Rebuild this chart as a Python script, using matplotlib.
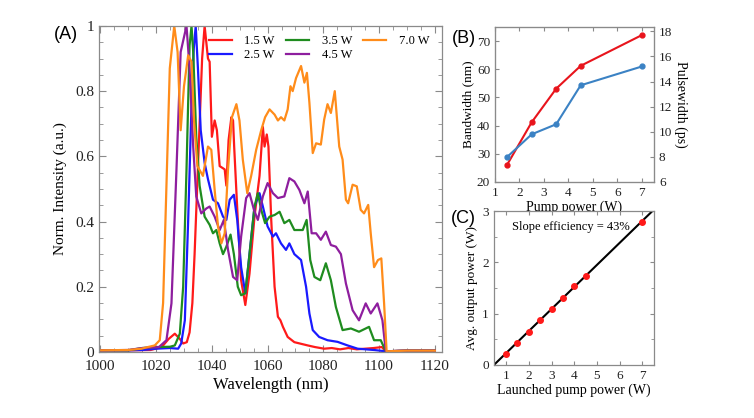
import matplotlib
matplotlib.use("Agg")
import matplotlib.pyplot as plt
from matplotlib.ticker import MultipleLocator
import numpy as np

# ---- spectra (wavelength nm, normalised intensity) ----
wl_red = [1000, 1010, 1018, 1022, 1024.5, 1026.7, 1028.5, 1029.7, 1031, 1032, 1033, 1033.8, 1034.7, 1035.6,
          1036.5, 1037.4, 1038.0, 1038.6, 1039.2, 1040, 1041, 1041.8, 1042.8, 1044.6, 1045.2, 1046, 1047,
          1047.6, 1048, 1049.3, 1050.5, 1052, 1053.5, 1055.3, 1057.1, 1058.3, 1058.9, 1059.7, 1060.3,
          1061.3, 1062.5, 1063.7, 1064.6, 1065.5, 1067.2, 1069.6, 1072, 1074.4, 1077, 1080.3, 1083,
          1086, 1089, 1092, 1095, 1098, 1101, 1102.4, 1110, 1120]
in_red = [0.005, 0.005, 0.006, 0.015, 0.04, 0.056, 0.04, 0.026, 0.03, 0.06, 0.15, 0.3, 0.5, 0.7,
          0.9, 1.0, 0.95, 0.9, 0.89, 0.66, 0.71, 0.68, 0.57, 0.56, 0.51, 0.65, 0.72,
          0.71, 0.63, 0.405, 0.22, 0.144, 0.24, 0.415, 0.54, 0.69, 0.63, 0.667, 0.63,
          0.405, 0.2, 0.108, 0.097, 0.077, 0.046, 0.03, 0.025, 0.02, 0.015, 0.01, 0.012,
          0.008, 0.012, 0.008, 0.01, 0.012, 0.015, 0.002, 0.004, 0.004]

wl_blue = [1000, 1010, 1015, 1020, 1025, 1027.9, 1029, 1030.3, 1031.5, 1032.7, 1033.5, 1034.2, 1035, 1036,
           1037.4, 1038.6, 1040.4, 1042.2, 1044, 1045.2, 1046.4, 1047.9, 1049.1, 1050.5, 1052, 1053.5,
           1055.3, 1057.1, 1058.3, 1060, 1061.9, 1063, 1064.8, 1066.6, 1067.8, 1069.6, 1072, 1073.8,
           1075, 1076.2, 1078.5, 1081.5, 1085.1, 1088.7, 1092.3, 1098.2, 1102.4, 1110, 1120]
in_blue = [0.005, 0.005, 0.006, 0.01, 0.012, 0.01, 0.026, 0.097, 0.405, 0.76, 0.93, 1.0, 0.87, 0.68,
           0.58, 0.53, 0.467, 0.456, 0.415, 0.405, 0.467, 0.482, 0.405, 0.26, 0.18, 0.30,
           0.446, 0.487, 0.446, 0.385, 0.354, 0.364, 0.333, 0.313, 0.333, 0.30, 0.282, 0.2,
           0.118, 0.067, 0.046, 0.036, 0.031, 0.02, 0.01, 0.006, 0.002, 0.004, 0.004]

wl_green = [1000, 1010, 1015, 1020, 1025, 1026.7, 1028.5, 1029.7, 1030.9, 1032, 1032.7, 1033.3, 1034.4,
            1035.6, 1037.4, 1039.2, 1040.4, 1041.6, 1042.8, 1044, 1045.2, 1046.7, 1047.9, 1049.3,
            1050.5, 1052, 1053.5, 1055.3, 1056.5, 1057.7, 1059.1, 1060.7, 1062.5, 1064.3, 1066,
            1067.8, 1069.6, 1072.6, 1074, 1075.3, 1076.8, 1078.9, 1080.9, 1082.7, 1084.5, 1086.9,
            1089.9, 1092.8, 1096.4, 1098.2, 1100.6, 1102.4, 1110, 1120]
in_green = [0.005, 0.005, 0.012, 0.015, 0.016, 0.02, 0.056, 0.2, 0.56, 0.94, 1.0, 0.92, 0.66,
            0.51, 0.415, 0.39, 0.364, 0.374, 0.333, 0.30, 0.323, 0.36, 0.30, 0.2,
            0.174, 0.18, 0.30, 0.446, 0.487, 0.436, 0.395, 0.415, 0.42, 0.43, 0.395,
            0.405, 0.374, 0.374, 0.405, 0.282, 0.23, 0.22, 0.272, 0.22, 0.138, 0.067,
            0.072, 0.062, 0.077, 0.036, 0.036, 0.002, 0.004, 0.004]

wl_purple = [1000, 1010, 1015, 1021, 1023.7, 1025.5, 1027.3, 1028.8, 1030.9, 1032, 1033.3, 1034.4,
             1036.2, 1038, 1039.2, 1041, 1042.8, 1044.3, 1045.8, 1047.6, 1049.1, 1050.5, 1052.3,
             1053.5, 1055.1, 1056.5, 1058.3, 1060, 1061.9, 1063.7, 1066, 1067.8, 1069.6, 1071.4,
             1073.2, 1074.4, 1075.8, 1077.4, 1079.1, 1080.9, 1082.7, 1084.5, 1086.3, 1088.1,
             1090.5, 1092.8, 1095.2, 1097, 1099.4, 1101.2, 1102.4, 1110, 1120]
in_purple = [0.005, 0.006, 0.012, 0.015, 0.036, 0.149, 0.56, 0.92, 1.0, 0.87, 0.63, 0.477,
             0.425, 0.44, 0.446, 0.415, 0.374, 0.405, 0.313, 0.23, 0.22, 0.354, 0.472,
             0.487, 0.436, 0.405, 0.477, 0.518, 0.487, 0.472, 0.477, 0.533, 0.523, 0.497,
             0.456, 0.492, 0.364, 0.364, 0.344, 0.369, 0.328, 0.323, 0.30, 0.21,
             0.128, 0.097, 0.149, 0.118, 0.149, 0.097, 0.002, 0.004, 0.004]

wl_orange = [1000, 1010, 1014.8, 1017, 1019.5, 1021.3, 1022.5, 1023.7, 1024.9, 1026.5, 1027.7, 1028.8,
             1030, 1031.5, 1032.7, 1033.6, 1034.8, 1036.8, 1038.6, 1039.8, 1041, 1042.2, 1043.4,
             1044.6, 1045.8, 1047.2, 1048.8, 1049.9, 1051.1, 1052.7, 1054.1, 1055.9, 1057.7, 1059.1,
             1060.7, 1062.5, 1063.7, 1064.8, 1066, 1067.2, 1068.2, 1069, 1070.2, 1072, 1073.2,
             1074.1, 1075, 1076.2, 1077.4, 1079.1, 1080.3, 1081.5, 1082.7, 1084.1, 1085.7, 1086.9,
             1088.1, 1088.9, 1090.5, 1092, 1093.4, 1094.6, 1096.1, 1097, 1098.2, 1099.6, 1100.8,
             1101.8, 1102.7, 1110, 1120]
in_orange = [0.005, 0.006, 0.01, 0.015, 0.02, 0.036, 0.15, 0.51, 0.87, 1.0, 0.92, 0.68,
             0.815, 0.91, 0.89, 0.71, 0.57, 0.54, 0.63, 0.62, 0.497, 0.385, 0.333,
             0.364, 0.56, 0.72, 0.76, 0.71, 0.59, 0.487, 0.54, 0.62, 0.68, 0.72,
             0.744, 0.728, 0.71, 0.72, 0.71, 0.744, 0.815, 0.80, 0.84, 0.877, 0.826,
             0.856, 0.764, 0.61, 0.64, 0.636, 0.713, 0.76, 0.733, 0.80, 0.63, 0.59,
             0.467, 0.456, 0.513, 0.508, 0.436, 0.425, 0.451, 0.364, 0.26, 0.282, 0.287,
             0.149, 0.002, 0.004, 0.004]

spectra = [
    ("1.5 W", wl_red, in_red, "#ff1a1a"),
    ("2.5 W", wl_blue, in_blue, "#1a1aff"),
    ("3.5 W", wl_green, in_green, "#1f8c1f"),
    ("4.5 W", wl_purple, in_purple, "#8e1e9e"),
    ("7.0 W", wl_orange, in_orange, "#ff8c1a"),
]

# ---- panel B ----
pump_b = [1.5, 2.5, 3.5, 4.5, 7.0]
bandwidth = [26.2, 41.2, 53.1, 61.2, 72.1]
pulsewidth = [8.0, 9.8, 10.6, 13.7, 15.2]

# ---- panel C ----
pump_c = [1.0, 1.5, 2.0, 2.5, 3.0, 3.5, 4.0, 4.5, 7.0]
out_power = [0.21, 0.435, 0.65, 0.877, 1.09, 1.31, 1.545, 1.727, 2.79]
slope = 0.43
threshold = 0.46

plt.rcParams["font.family"] = ["Liberation Serif", "DejaVu Serif"]
frame = "#8a8a8a"

fig = plt.figure(figsize=(7.54, 4.18), dpi=100)


def style(ax, right=True):
    for s in ax.spines.values():
        s.set_color(frame)
        s.set_linewidth(0.9)
    ax.tick_params(which="both", direction="in", top=True, right=right,
                   color=frame, labelcolor="#222222")


# panel A
axA = fig.add_axes([0.1313, 0.158, 0.455, 0.780])
for lab, x, y, c in spectra:
    axA.plot(x, y, color=c, lw=1.6, label=lab)
axA.set_xlim(999.5, 1122.6)
axA.set_ylim(0, 1.0)
axA.xaxis.set_major_locator(MultipleLocator(20))
axA.xaxis.set_minor_locator(MultipleLocator(5))
axA.yaxis.set_minor_locator(MultipleLocator(0.05))
axA.set_yticks([0, 0.2, 0.4, 0.6, 0.8, 1.0], ["0", "0.2", "0.4", "0.6", "0.8", "1"])
style(axA)
axA.tick_params(which="major", length=5, labelsize=11)
axA.tick_params(axis="x", which="major", pad=6)
axA.tick_params(which="minor", length=3)
axA.set_xlabel("Wavelength (nm)", fontsize=12, labelpad=3)
axA.set_ylabel("Norm. Intensity (a.u.)", fontsize=11, labelpad=6)
axA.legend(ncol=3, loc="upper right", frameon=False, fontsize=9,
           handlelength=1.85, columnspacing=0.9, handletextpad=1.0,
           labelspacing=0.15, borderaxespad=0.2, bbox_to_anchor=(0.985, 0.995))
fig.text(0.088, 0.917, "(A)", family="Liberation Sans", fontsize=13, ha="center", va="center")

# panel B
axB = fig.add_axes([0.6565, 0.5646, 0.211, 0.371])
axB.plot(pump_b, bandwidth, color="#e8141c", lw=1.5, marker="o", ms=3.5)
axB.set_xlim(1, 7.5)
axB.set_ylim(20, 75)
axB.set_xticks(range(1, 8))
axB.set_yticks(range(20, 71, 10))
style(axB, right=False)
axB.tick_params(labelsize=9.5, length=3)
axB.set_xlabel("Pump power (W)", fontsize=10, labelpad=1)
axB.set_ylabel("Bandwidth (nm)", fontsize=9.5, labelpad=2)
axB2 = axB.twinx()
axB2.plot(pump_b, pulsewidth, color="#3b82c4", lw=1.5, marker="o", ms=3.5)
axB2.set_ylim(6, 18.35)
axB2.set_yticks(range(6, 19, 2))
for s in axB2.spines.values():
    s.set_color(frame)
axB2.tick_params(direction="in", color=frame, labelsize=9.5, length=3, labelcolor="#222222")
axB2.set_ylabel("Pulsewidth (ps)", fontsize=10, rotation=270, labelpad=11)
fig.text(0.615, 0.909, "(B)", family="Liberation Sans", fontsize=13, ha="center", va="center")

# panel C
axC = fig.add_axes([0.655, 0.1268, 0.212, 0.368])
xs = np.array([threshold, 7.5])
axC.plot(xs, slope * (xs - threshold), color="black", lw=1.5)
axC.plot(pump_c, out_power, "o", color="#ff1a1a", ms=4)
axC.set_xlim(threshold, 7.5)
axC.set_ylim(0, 3)
axC.set_xticks(range(1, 8))
axC.set_yticks([0, 1, 2, 3])
axC.yaxis.set_minor_locator(MultipleLocator(0.5))
style(axC)
axC.tick_params(which="major", labelsize=9.5, length=3)
axC.tick_params(which="minor", length=2)
axC.text(1.25, 2.69, "Slope efficiency = 43%", fontsize=9, va="center")
axC.set_xlabel("Launched pump power (W)", fontsize=10, labelpad=1)
axC.set_ylabel("Avg. output power (W)", fontsize=9.5, labelpad=3)
fig.text(0.615, 0.478, "(C)", family="Liberation Sans", fontsize=13, ha="center", va="center")

fig.savefig("out.png", dpi=100)
